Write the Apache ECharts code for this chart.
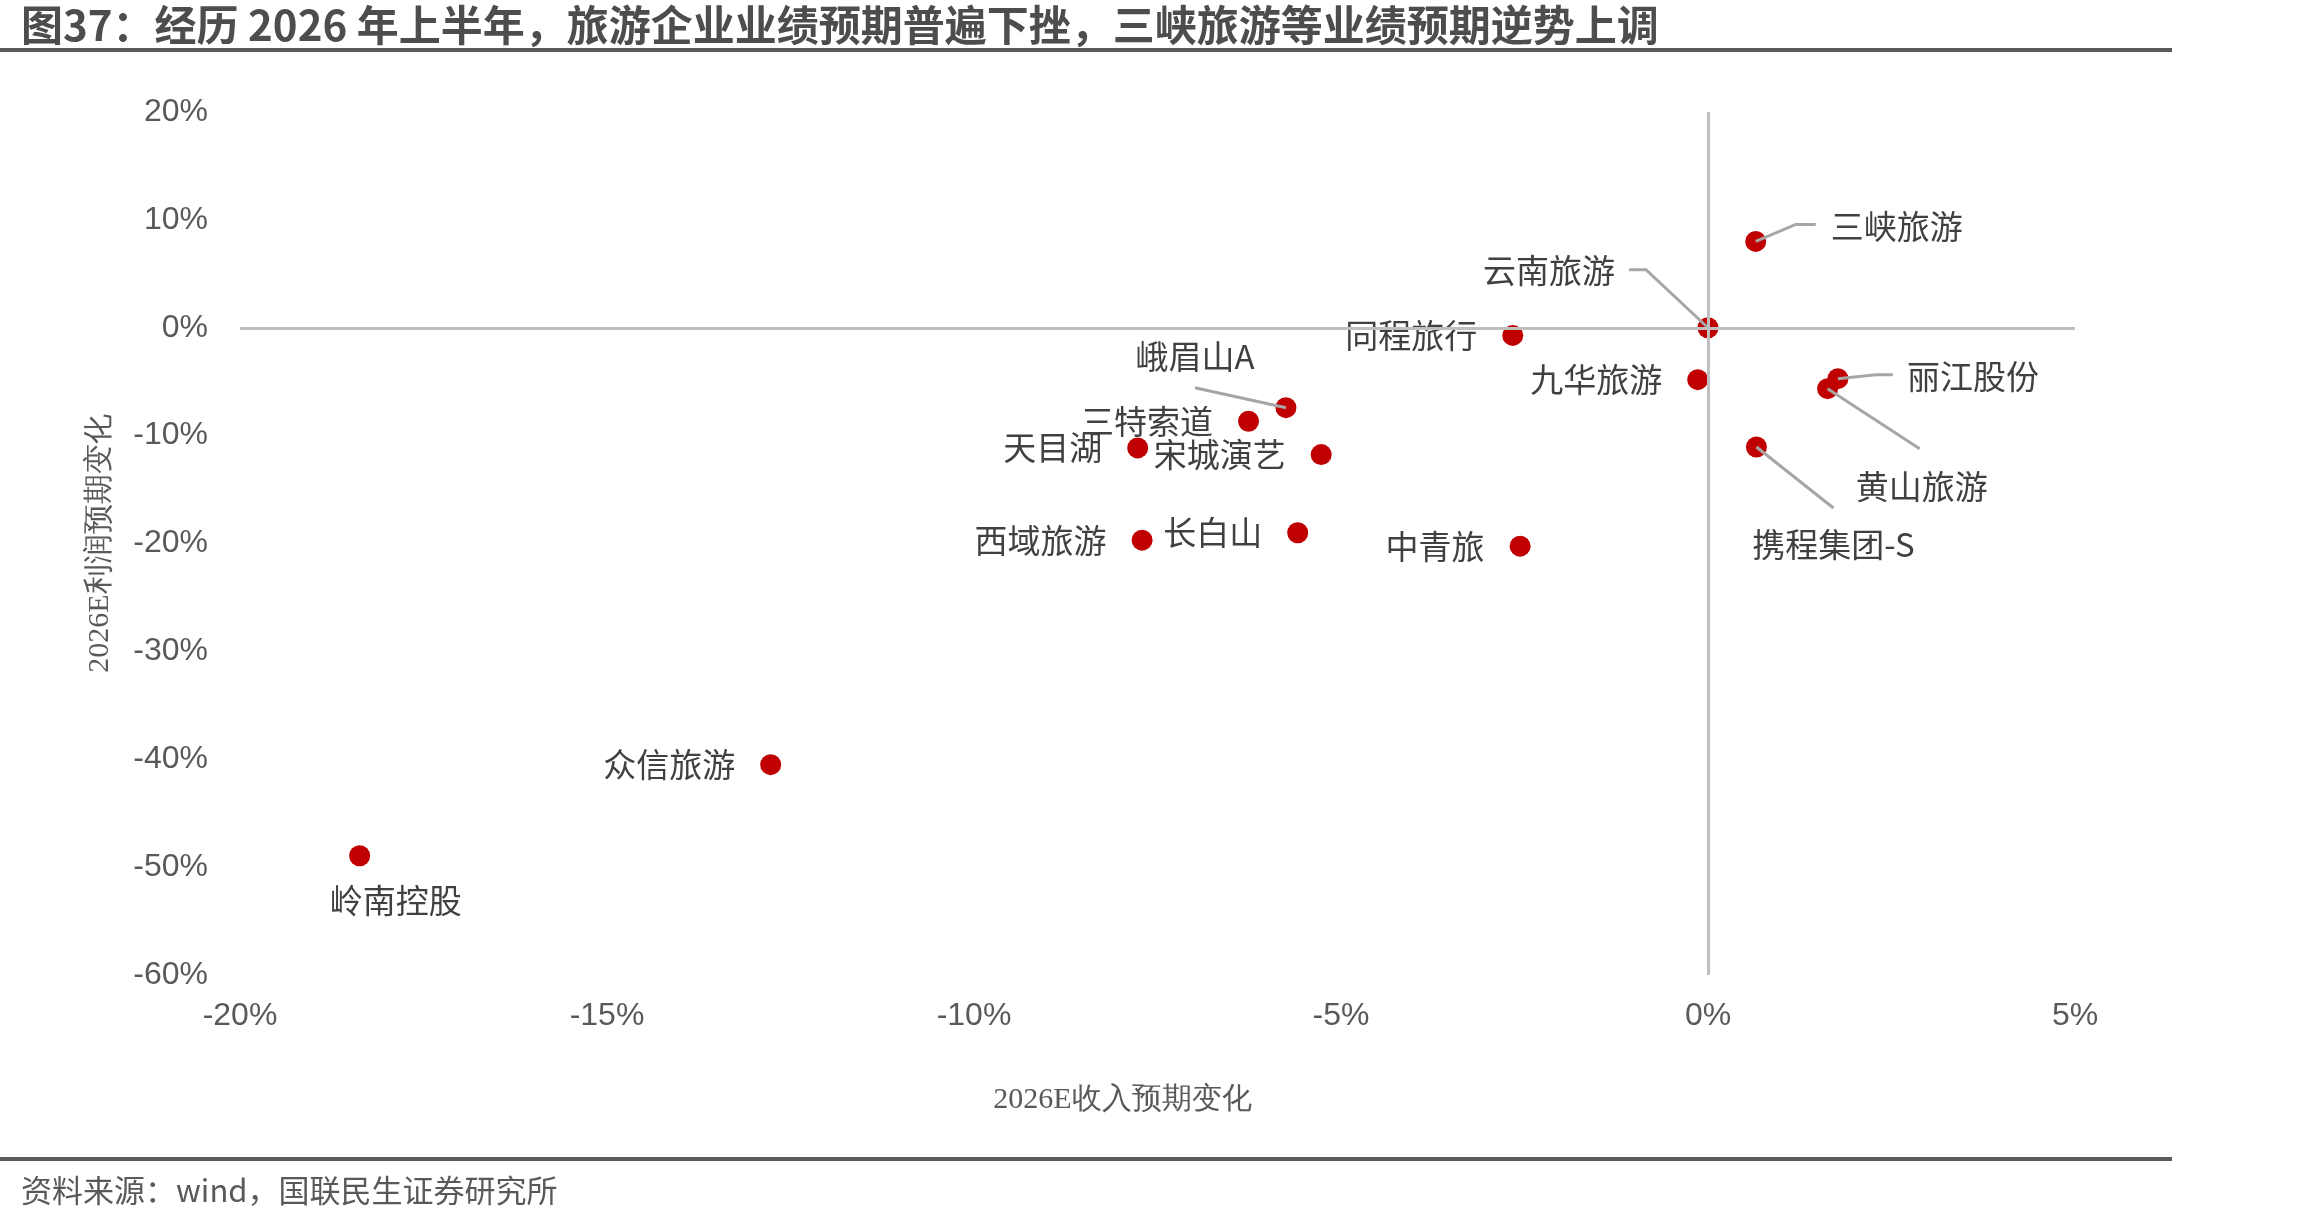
<!DOCTYPE html>
<html>
<head>
<meta charset="utf-8">
<title>图37 旅游企业业绩预期变化</title>
<script src="https://cdn.jsdelivr.net/npm/echarts@6/dist/echarts.min.js"></script>
<style>
  html, body { margin: 0; padding: 0; background: #fff; }
  #chart { width: 2310px; height: 1220px; }
</style>
</head>
<body>
<div id="chart"></div>
<script>
// 公司
const companies = ['三峡旅游', '云南旅游', '同程旅行', '九华旅游', '丽江股份', '黄山旅游', '携程集团-S', '中青旅',
  '峨眉山A', '三特索道', '天目湖', '宋城演艺', '西域旅游', '长白山', '众信旅游', '岭南控股'];
// 2026E 收入预期变化 (%)
const revenueChange = [0.65, 0.0, -2.66, -0.14, 1.77, 1.63, 0.66, -2.56,
  -5.75, -6.26, -7.77, -5.27, -7.71, -5.59, -12.77, -18.37];
// 2026E 利润预期变化 (%)
const profitChange = [8.0, 0.0, -0.71, -4.81, -4.72, -5.65, -11.05, -20.25,
  -7.41, -8.67, -11.14, -11.76, -19.69, -19.0, -40.5, -48.95];
// 坐标轴刻度
const xTicks = [-20, -15, -10, -5, 0, 5];
const yTicks = [-60, -50, -40, -30, -20, -10, 0, 10, 20];

const titleText = '图37：经历 2026 年上半年，旅游企业业绩预期普遍下挫，三峡旅游等业绩预期逆势上调';
const sourceText = '资料来源：wind，国联民生证券研究所';

// 标签位置（相对点中心的像素偏移），未列出的放在点左侧
const labelPlacement = {
  '三峡旅游': { align: 'left', offset: [75, -15] },
  '云南旅游': { align: 'right', offset: [-93, -57] },
  '丽江股份': { align: 'left', offset: [69, -2] },
  '黄山旅游': { align: 'center', offset: [94, 98] },
  '携程集团-S': { align: 'center', offset: [77, 98] },
  '峨眉山A': { align: 'center', offset: [-91, -51] },
  '岭南控股': { align: 'center', offset: [36, 45] }
};
// 引导线折点（相对点中心的像素偏移）
const leaderLines = {
  '三峡旅游': [[0, 0], [40, -17], [60, -17]],
  '云南旅游': [[0, 0], [-62, -58], [-79, -58]],
  '丽江股份': [[0, 0], [38, -4], [55, -4]],
  '黄山旅游': [[0, 0], [92, 60]],
  '携程集团-S': [[0, 0], [77, 61]],
  '峨眉山A': [[0, 0], [-91, -20]]
};

const labelColor = '#404040';
const axisColor = '#595959';
const cjkFont = '"Noto Sans CJK SC", "Noto Sans", sans-serif';

const scatterData = companies.map((name, i) => {
  const item = { name: name, value: [revenueChange[i], profitChange[i]] };
  const p = labelPlacement[name];
  if (p) {
    item.label = {
      position: 'inside',
      align: p.align,
      verticalAlign: 'middle',
      offset: p.offset,
      color: labelColor,
      textBorderWidth: 0
    };
  }
  return item;
});

const leaderData = companies
  .map((name, i) => ({ name: name, value: [revenueChange[i], profitChange[i]] }))
  .filter((d) => leaderLines[d.name]);

const chart = echarts.init(document.getElementById('chart'));

const option = {
  backgroundColor: '#fff',
  animation: false,
  grid: { left: 240, right: 235, top: 112, bottom: 245 },
  xAxis: {
    type: 'value',
    min: xTicks[0],
    max: xTicks[xTicks.length - 1],
    interval: xTicks[1] - xTicks[0],
    name: '2026E收入预期变化',
    nameLocation: 'middle',
    nameGap: 110,
    nameTextStyle: {
      color: axisColor,
      fontSize: 30,
      fontFamily: '"Liberation Serif", serif',
      padding: [0, 70, 0, 0]
    },
    axisLine: { show: false },
    axisTick: { show: false },
    splitLine: { show: false },
    axisLabel: {
      formatter: '{value}%',
      color: axisColor,
      fontSize: 32,
      fontFamily: '"Liberation Sans", Arial, sans-serif',
      margin: 25
    }
  },
  yAxis: {
    type: 'value',
    min: yTicks[0],
    max: yTicks[yTicks.length - 1],
    interval: yTicks[1] - yTicks[0],
    name: '2026E利润预期变化',
    nameLocation: 'middle',
    nameGap: 125,
    nameTextStyle: {
      color: axisColor,
      fontSize: 30,
      fontFamily: '"Liberation Serif", serif'
    },
    axisLine: { show: false },
    axisTick: { show: false },
    splitLine: { show: false },
    axisLabel: {
      formatter: '{value}%',
      color: axisColor,
      fontSize: 32,
      fontFamily: '"Liberation Sans", Arial, sans-serif',
      margin: 32,
      padding: [6, 0, 0, 0]
    }
  },
  series: [
    {
      type: 'scatter',
      data: scatterData,
      symbolSize: 21,
      itemStyle: { color: '#c00000', opacity: 1 },
      label: {
        show: true,
        formatter: '{b}',
        position: 'left',
        distance: 25,
        color: labelColor,
        fontSize: 33,
        fontFamily: cjkFont
      },
      markLine: {
        silent: true,
        symbol: 'none',
        label: { show: false },
        lineStyle: { color: '#bfbfbf', width: 3, type: 'solid', opacity: 1 },
        data: [{ xAxis: 0 }, { yAxis: 0 }]
      },
      z: 3
    },
    {
      type: 'custom',
      data: leaderData,
      silent: true,
      z: 4,
      renderItem: (params, api) => {
        const c = api.coord([api.value(0), api.value(1)]);
        const pts = leaderLines[leaderData[params.dataIndex].name].map((o) => [c[0] + o[0], c[1] + o[1]]);
        return {
          type: 'polyline',
          shape: { points: pts },
          style: { stroke: '#a6a6a6', lineWidth: 3, fill: null }
        };
      }
    }
  ],
  graphic: [
    {
      type: 'text',
      x: 21,
      y: 25,
      style: {
        text: titleText,
        font: 'bold 42px ' + cjkFont,
        fill: '#4d4d4d',
        verticalAlign: 'middle'
      }
    },
    {
      type: 'rect',
      shape: { x: 0, y: 48, width: 2172, height: 4 },
      style: { fill: '#5a5a5a' }
    },
    {
      type: 'rect',
      shape: { x: 0, y: 1157, width: 2172, height: 4 },
      style: { fill: '#5a5a5a' }
    },
    {
      type: 'text',
      x: 21,
      y: 1190,
      style: {
        text: sourceText,
        font: '31px ' + cjkFont,
        fill: axisColor,
        verticalAlign: 'middle'
      }
    }
  ]
};

chart.setOption(option);
</script>
</body>
</html>
